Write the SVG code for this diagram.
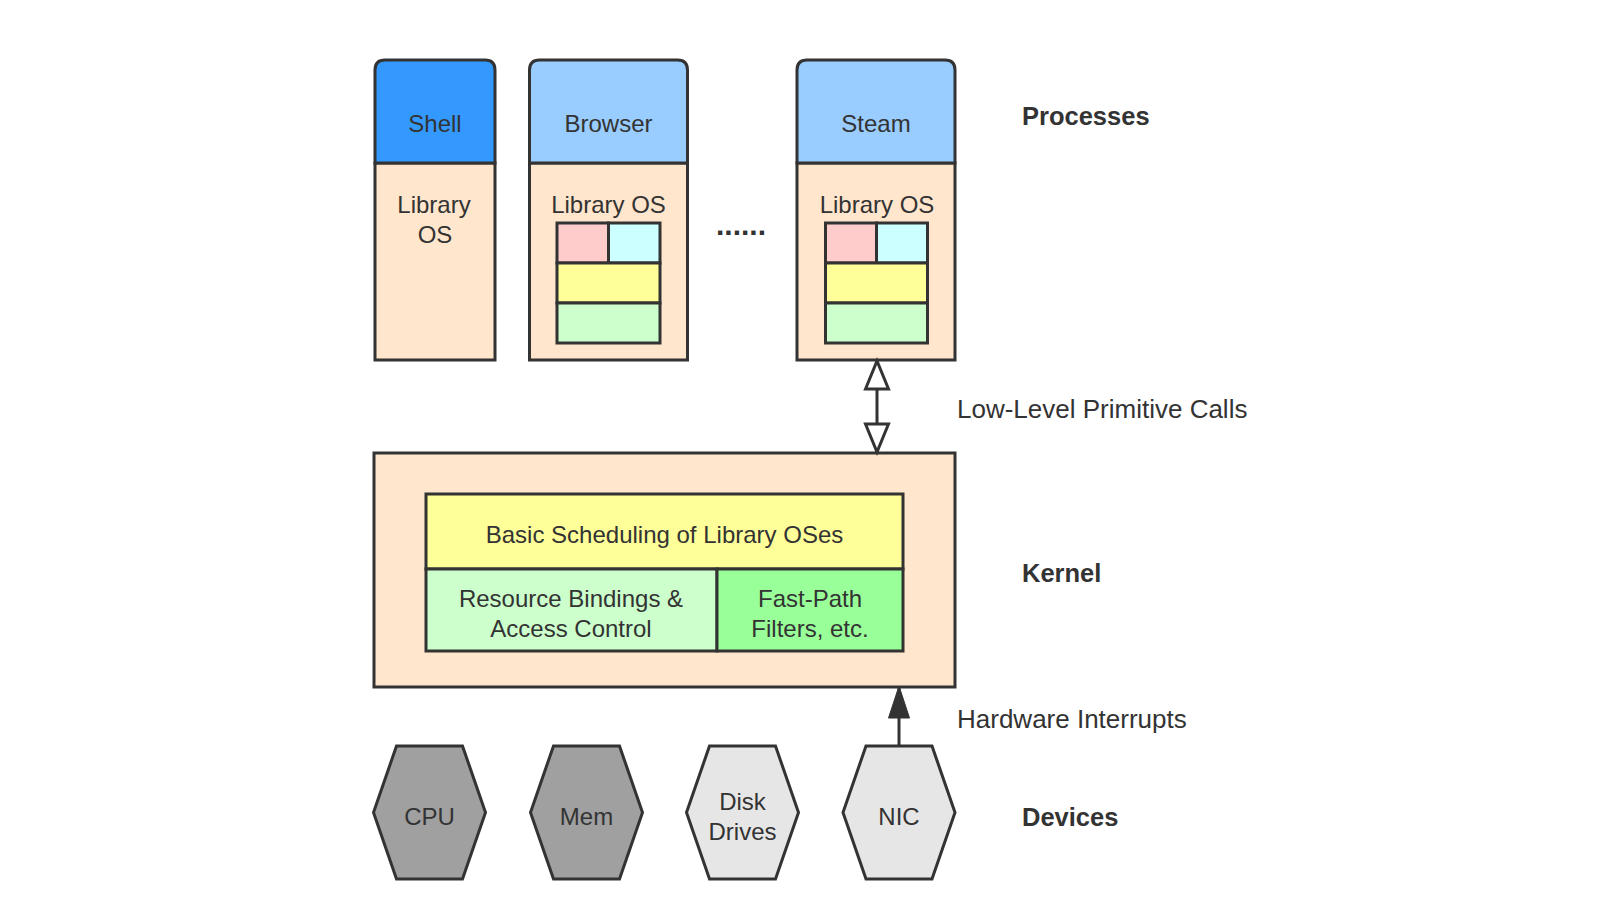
<svg xmlns="http://www.w3.org/2000/svg" width="1608" height="924" viewBox="0 0 1608 924">
<style>
  .s { stroke: #333333; stroke-width: 3; }
  .t { font-family: "Liberation Sans", Arial, Helvetica, sans-serif; font-size: 24px; fill: #333333; text-anchor: middle; }
  .lbl { font-family: "Liberation Sans", Arial, Helvetica, sans-serif; font-size: 26px; fill: #333333; }
  .hd { font-family: "Liberation Sans", Arial, Helvetica, sans-serif; font-size: 25.5px; font-weight: bold; fill: #333333; }
  .peach { fill: #FFE6CC; }
  .pink { fill: #FFCCCC; }
  .cyan { fill: #CCFFFF; }
  .yel { fill: #FFFF99; }
  .lgreen { fill: #CCFFCC; }
  .green { fill: #99FF99; }
  .light { fill: #99CCFF; }
  .dark { fill: #A0A0A0; }
  .pale { fill: #E6E6E6; }
</style>
<defs>
  <marker id="openHead" markerUnits="userSpaceOnUse" markerWidth="36" markerHeight="30" refX="31" refY="14.5" orient="auto-start-reverse" overflow="visible">
    <path d="M3,3 L31,14.5 L3,26 Z" fill="#FFFFFF" stroke="#333333" stroke-width="3" stroke-linejoin="miter"/>
  </marker>
  <marker id="filledHead" markerUnits="userSpaceOnUse" markerWidth="36" markerHeight="26" refX="32" refY="11" orient="auto" overflow="visible">
    <path d="M0,0.5 L32,11 L0,21.5 Z" fill="#333333" stroke="#333333" stroke-width="1"/>
  </marker>
</defs>
<rect width="1608" height="924" fill="#FFFFFF"/>

<g id="shell">
  <rect class="peach s" x="375" y="163" width="120" height="197"/>
  <path d="M375,163 V70 Q375,60 385,60 H485 Q495,60 495,70 V163 Z" fill="#3399FF" class="s"/>
  <text class="t" x="435" y="132">Shell</text>
  <text class="t" x="434" y="213">Library</text>
  <text class="t" x="435" y="243">OS</text>
</g>

<g id="browser">
  <rect class="peach s" x="529.5" y="163" width="158" height="197"/>
  <path d="M529.5,163 V70 Q529.5,60 539.5,60 H677.5 Q687.5,60 687.5,70 V163 Z" class="light s"/>
  <text class="t" x="608.5" y="132">Browser</text>
  <text class="t" x="608.5" y="213">Library OS</text>
  <rect class="pink s" x="557" y="223" width="51.5" height="40"/>
  <rect class="cyan s" x="608.5" y="223" width="51.5" height="40"/>
  <rect class="yel s" x="557" y="263" width="103" height="40"/>
  <rect class="lgreen s" x="557" y="303" width="103" height="40"/>
</g>

<g id="ellipsis">
  <text class="t" x="741" y="235" style="font-weight:bold;font-size:30px">......</text>
</g>

<g id="steam">
  <rect class="peach s" x="797" y="163" width="158" height="197"/>
  <path d="M797,163 V70 Q797,60 807,60 H945 Q955,60 955,70 V163 Z" class="light s"/>
  <text class="t" x="876" y="132">Steam</text>
  <text class="t" x="877" y="213">Library OS</text>
  <rect class="pink s" x="825.5" y="223" width="51" height="40"/>
  <rect class="cyan s" x="876.5" y="223" width="51" height="40"/>
  <rect class="yel s" x="825.5" y="263" width="102" height="40"/>
  <rect class="lgreen s" x="825.5" y="303" width="102" height="40"/>
</g>

<g id="kernel">
  <rect class="peach s" x="374" y="453" width="581" height="234"/>
  <rect class="yel s" x="426" y="494" width="477" height="75"/>
  <text class="t" x="664.5" y="543">Basic Scheduling of Library OSes</text>
  <rect class="lgreen s" x="426" y="569" width="291" height="82"/>
  <text class="t" x="571" y="607">Resource Bindings &amp;</text>
  <text class="t" x="571" y="637">Access Control</text>
  <rect class="green s" x="717" y="569" width="186" height="82"/>
  <text class="t" x="810" y="607">Fast-Path</text>
  <text class="t" x="810" y="637">Filters, etc.</text>
</g>

<g id="cpu">
  <polygon class="dark s" points="373.5,812.5 396.5,746 462.5,746 485.5,812.5 462.5,879 396.5,879"/>
  <text class="t" x="429.5" y="825">CPU</text>
</g>
<g id="mem">
  <polygon class="dark s" points="530.5,812.5 553.5,746 619.5,746 642.5,812.5 619.5,879 553.5,879"/>
  <text class="t" x="586.5" y="825">Mem</text>
</g>
<g id="disk">
  <polygon class="pale s" points="686.5,812.5 709.5,746 775.5,746 798.5,812.5 775.5,879 709.5,879"/>
  <text class="t" x="742.5" y="810">Disk</text>
  <text class="t" x="742.5" y="840">Drives</text>
</g>
<g id="nic">
  <polygon class="pale s" points="843,812.5 866,746 932,746 955,812.5 932,879 866,879"/>
  <text class="t" x="899" y="825">NIC</text>
</g>

<g id="connectors">
  <line x1="877" y1="361" x2="877" y2="452" stroke="#333333" stroke-width="3" marker-start="url(#openHead)" marker-end="url(#openHead)"/>
  <line x1="899" y1="746" x2="899" y2="686" stroke="#333333" stroke-width="3" marker-end="url(#filledHead)"/>
</g>

<g id="labels">
  <text class="hd" x="1022" y="125">Processes</text>
  <text class="lbl" x="957" y="418">Low-Level Primitive Calls</text>
  <text class="hd" x="1022" y="582">Kernel</text>
  <text class="lbl" x="957" y="728">Hardware Interrupts</text>
  <text class="hd" x="1022" y="826">Devices</text>
</g>
</svg>
